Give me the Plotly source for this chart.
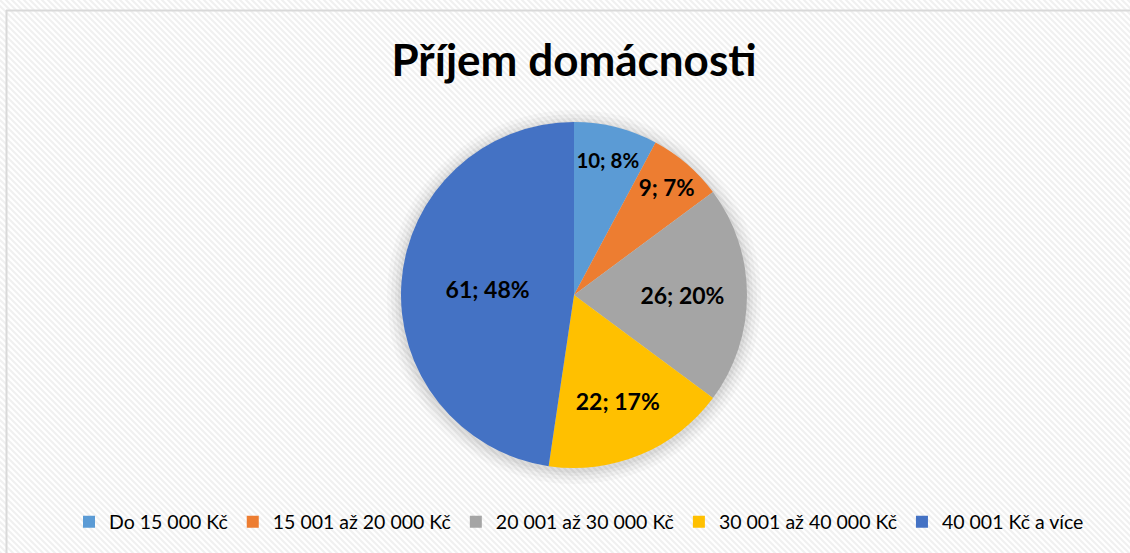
import base64
import plotly.graph_objects as go

categories = ["Do 15 000 Kč", "15 001 až 20 000 Kč", "20 001 až 30 000 Kč",
              "30 001 až 40 000 Kč", "40 001 Kč a více"]
values = [10, 9, 26, 22, 61]
colors = ["#5B9BD5", "#ED7D31", "#A5A5A5", "#FFC000", "#4472C4"]
title = "Příjem domácnosti"

W, H = 1130, 553
FONT = "Lato, Open Sans, sans-serif"

# hatched background as svg pattern
svg = (
    f'<svg xmlns="http://www.w3.org/2000/svg" width="{W}" height="{H}">'
    '<defs><pattern id="p" width="6" height="6" patternUnits="userSpaceOnUse">'
    '<rect width="6" height="6" fill="#ffffff"/>'
    '<path d="M-1,-1 L7,7 M-1,5 L1,7 M5,-1 L7,1" stroke="#f0f0f0" stroke-width="2"/>'
    '</pattern></defs>'
    f'<rect width="{W}" height="{H}" fill="url(#p)"/></svg>'
)
src = "data:image/svg+xml;base64," + base64.b64encode(svg.encode()).decode()

# pie geometry (pixels)
cx, cy, r = 574, 295, 173
dom_x = [(cx - r) / W, (cx + r) / W]
dom_y = [1 - (cy + r) / H, 1 - (cy - r) / H]

# chart-area border (only left and top edges are visible)
shapes = [
    dict(type="line", xref="paper", yref="paper", x0=6.5 / W, x1=6.5 / W, y0=0, y1=1 - 10 / H,
         line=dict(color="#d9d9d9", width=2), layer="below"),
    dict(type="line", xref="paper", yref="paper", x0=6 / W, x1=1, y0=1 - 10.5 / H, y1=1 - 10.5 / H,
         line=dict(color="#d9d9d9", width=2), layer="below"),
]
# soft shadow halo
for extra, a in [(14, 0.025), (10, 0.03), (6, 0.035), (3, 0.04)]:
    rr = r + extra
    shapes.append(dict(type="circle", xref="paper", yref="paper",
                       x0=(cx - rr) / W, x1=(cx + rr) / W,
                       y0=1 - (cy + 2 + rr) / H, y1=1 - (cy + 2 - rr) / H,
                       line=dict(width=0), fillcolor=f"rgba(0,0,0,{a})", layer="below"))

fig = go.Figure()
fig.add_trace(go.Pie(
    labels=categories,
    values=values,
    marker=dict(colors=colors, line=dict(width=0)),
    sort=False,
    direction="clockwise",
    rotation=0,
    texttemplate="%{value}; %{percent:.0%}",
    textposition="inside",
    insidetextorientation="horizontal",
    textfont=dict(family=FONT, size=23, color="#000000", weight="bold"),
    hoverinfo="label+value+percent",
    domain=dict(x=dom_x, y=dom_y),
))

fig.update_layout(
    width=W, height=H,
    margin=dict(l=0, r=0, t=0, b=0),
    paper_bgcolor="#ffffff",
    plot_bgcolor="#ffffff",
    images=[dict(source=src, xref="paper", yref="paper", x=0, y=1, sizex=1, sizey=1,
                 xanchor="left", yanchor="top", sizing="stretch", layer="below")],
    shapes=shapes,
    title=dict(text="<b>" + title + "</b>", x=574 / W, xanchor="center", y=1 - 61 / H, yanchor="middle",
               font=dict(family=FONT, size=44, color="#000000")),
    legend=dict(orientation="h", x=579 / W, xanchor="center", y=1 - 522 / H, yanchor="middle",
                font=dict(family=FONT, size=19.5, color="#000000"),
                bgcolor="rgba(0,0,0,0)", itemwidth=30, tracegroupgap=0),
    showlegend=True,
)

fig.write_html("out.html", config={"displayModeBar": False},
               post_script="document.body.style.margin='0';document.body.style.overflow='hidden';")
